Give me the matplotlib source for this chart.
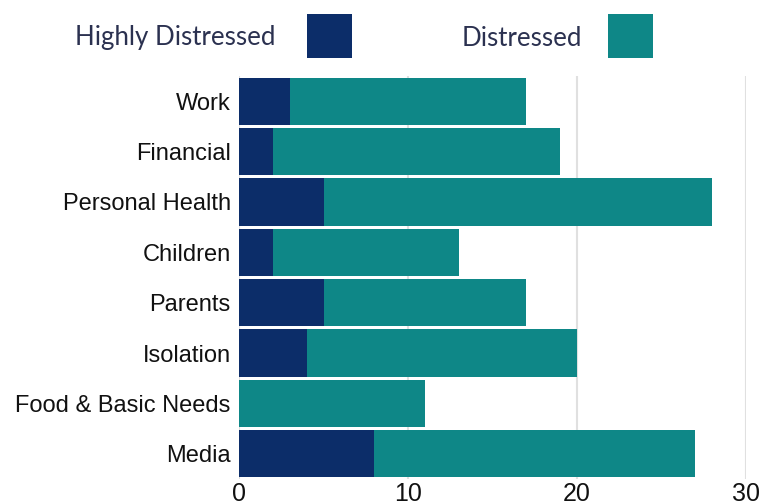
import matplotlib
matplotlib.use("Agg")
import matplotlib.pyplot as plt
from matplotlib.patches import Rectangle

categories = ["Work", "Financial", "Personal Health", "Children", "Parents",
              "Isolation", "Food & Basic Needs", "Media"]
highly_distressed = [3, 2, 5, 2, 5, 4, 0, 8]
distressed = [14, 17, 23, 11, 12, 16, 11, 19]
series_names = ["Highly Distressed", "Distressed"]
series_colors = ["#0c2d69", "#0e8787"]
x_ticks = [0, 10, 20, 30]

fig = plt.figure(figsize=(7.71, 5.04), dpi=100)
ax = fig.add_axes([239 / 771, 1 - 479 / 504, (746 - 239) / 771, (479 - 76) / 504])

y = list(range(len(categories)))
bar_h = 0.94
ax.barh(y, highly_distressed, height=bar_h, color=series_colors[0],
        linewidth=0, zorder=3)
ax.barh(y, distressed, left=highly_distressed, height=bar_h,
        color=series_colors[1], linewidth=0, zorder=3)

ax.set_xlim(0, 30)
ax.set_ylim(len(categories) - 0.5, -0.5)
ax.set_yticks(y)
ax.set_yticklabels(categories, fontfamily="Liberation Sans", fontsize=17,
                   color="#111111")
ax.set_xticks(x_ticks)
ax.set_xticklabels([str(t) for t in x_ticks], fontfamily="Liberation Sans",
                   fontsize=18, color="#111111")
ax.tick_params(axis="both", length=0)
ax.tick_params(axis="y", pad=6)
ax.tick_params(axis="x", pad=2)
ax.xaxis.grid(True, color="#e0e0e0", linewidth=1.5, zorder=0)
ax.set_axisbelow(True)
for s in ax.spines.values():
    s.set_visible(False)

# legend across the top: label text followed by a colour square
legend_items = [(75, 307), (462, 608)]
for (tx, px), name, col in zip(legend_items, series_names, series_colors):
    fig.text(tx / 771, 1 - 38 / 504, name, fontfamily="Lato", fontsize=18.6,
             color="#2b3150", ha="left", va="center")
    fig.add_artist(Rectangle((px / 771, 1 - 58 / 504), 45 / 771, 44 / 504,
                             transform=fig.transFigure, color=col, lw=0))

fig.savefig("out.png", dpi=100)
